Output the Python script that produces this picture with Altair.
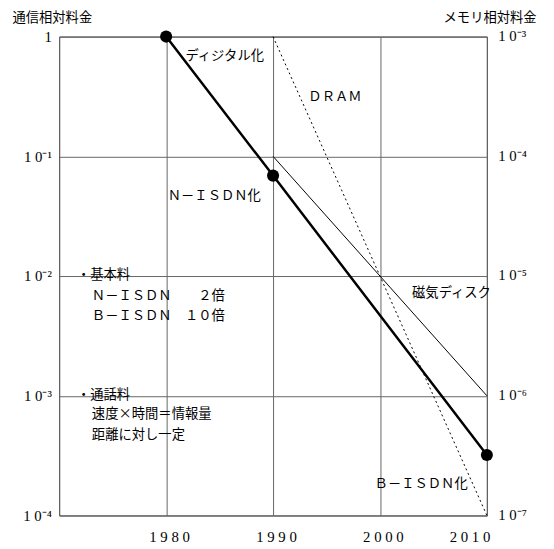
import altair as alt
import pandas as pd

# ---- data ----
comm_years = [1980, 1990, 2010]
comm_values = [1.0, 0.069, 3.2e-4]          # 通信相対料金 (left scale)

dram_years = [1990, 2010]
dram_values = [1e-3, 1e-7]                   # メモリ相対料金 (right scale)
disk_years = [1990, 2010]
disk_values = [1e-4, 1e-6]

x_ticks = [1980, 1990, 2000, 2010]
left_ticks = [1e-4, 1e-3, 1e-2, 1e-1, 1]
right_ticks = [1e-7, 1e-6, 1e-5, 1e-4, 1e-3]

note_texts = ["ディジタル化", "ＤＲＡＭ", "Ｎ－ＩＳＤＮ化", "・基本料",
              "Ｎ－ＩＳＤＮ　　２倍", "Ｂ－ＩＳＤＮ　１０倍", "・通話料",
              "速度×時間＝情報量", "距離に対し一定", "磁気ディスク", "Ｂ－ＩＳＤＮ化"]
note_years = [1981.8, 1993.3, 1980.15, 1971.65, 1973.05, 1973.05, 1971.65,
              1973.05, 1973.05, 2003.0, 1999.5]
note_values = [0.684, 0.31, 0.0464, 0.0102, 0.00685, 0.0046, 0.00102,
               7.0e-4, 4.7e-4, 0.00724, 1.83e-4]

comm_df = pd.DataFrame({"year": comm_years, "v": comm_values})
dram_df = pd.DataFrame({"year": dram_years, "v": dram_values})
disk_df = pd.DataFrame({"year": disk_years, "v": disk_values})
note_df = pd.DataFrame({"year": note_years, "v": note_values, "t": note_texts})

JP = "Noto Sans CJK JP"
NUM = "Liberation Serif"
SUP = "['', '¹', '²', '³', '⁴', '⁵', '⁶', '⁷'][round(-log(datum.value) / LN10)]"


def xenc():
    return alt.X("year:Q",
                 scale=alt.Scale(domain=[1970, 2010], nice=False, zero=False),
                 axis=alt.Axis(values=x_ticks, title=None, grid=True, gridColor="#666",
                               ticks=False, domain=False,
                               labelExpr="join(split(toString(datum.value), ''), ' ')",
                               labelFont=NUM, labelFontSize=15, labelColor="black",
                               labelPadding=21, labelBaseline="middle", labelOffset=3))


def yleft():
    return alt.Y("v:Q",
                 scale=alt.Scale(type="log", domain=[1e-4, 1], nice=False),
                 axis=alt.Axis(values=left_ticks, orient="left", title="通信相対料金",
                               titleAngle=0, titleAlign="left", titleBaseline="middle",
                               titleX=-48, titleY=-19, titleFont=JP, titleFontSize=13.5,
                               titleFontWeight="normal", titleColor="black",
                               grid=True, gridColor="#666", ticks=False, domain=False,
                               labelExpr="datum.value >= 0.99 ? '1' : '1 0⁻' + " + SUP,
                               labelFont=NUM, labelFontSize=15, labelColor="black",
                               labelPadding=8, labelBaseline="middle"))


def yright():
    return alt.Y("v:Q",
                 scale=alt.Scale(type="log", domain=[1e-7, 1e-3], nice=False),
                 axis=alt.Axis(values=right_ticks, orient="right", title="メモリ相対料金",
                               titleAngle=0, titleAlign="right", titleBaseline="middle",
                               titleX=50, titleY=-19, titleFont=JP, titleFontSize=13.5,
                               titleFontWeight="normal", titleColor="black",
                               grid=False, ticks=False, domain=False,
                               labelExpr="'1 0⁻' + " + SUP,
                               labelFont=NUM, labelFontSize=15, labelColor="black",
                               labelPadding=11, labelAlign="left", labelBaseline="middle",
                               labelOffset=-1))


dram = alt.Chart(dram_df).mark_line(color="black", strokeWidth=1, strokeDash=[2, 3]).encode(
    x=xenc(), y=yright())
disk = alt.Chart(disk_df).mark_line(color="black", strokeWidth=1).encode(x=xenc(), y=yright())
right_layer = alt.layer(dram, disk)

comm_line = alt.Chart(comm_df).mark_line(color="black", strokeWidth=2.5).encode(x=xenc(), y=yleft())
comm_pts = alt.Chart(comm_df).mark_circle(color="black", size=150, opacity=1).encode(
    x=xenc(), y=yleft())
notes = alt.Chart(note_df).mark_text(
    align="left", baseline="middle", font=JP, fontSize=13.5, color="black").encode(
    x=xenc(), y=yleft(), text="t:N")
left_layer = alt.layer(comm_line, notes, comm_pts)

chart = alt.layer(right_layer, left_layer).resolve_scale(y="independent").properties(
    width=434, height=486,
    autosize=alt.AutoSizeParams(type="none"),
    padding={"left": 52, "top": 25, "right": 60, "bottom": 30},
    background="white",
).configure_view(stroke="#333", strokeWidth=1)

chart.save("out.html", embed_options={"renderer": "svg", "actions": False})
